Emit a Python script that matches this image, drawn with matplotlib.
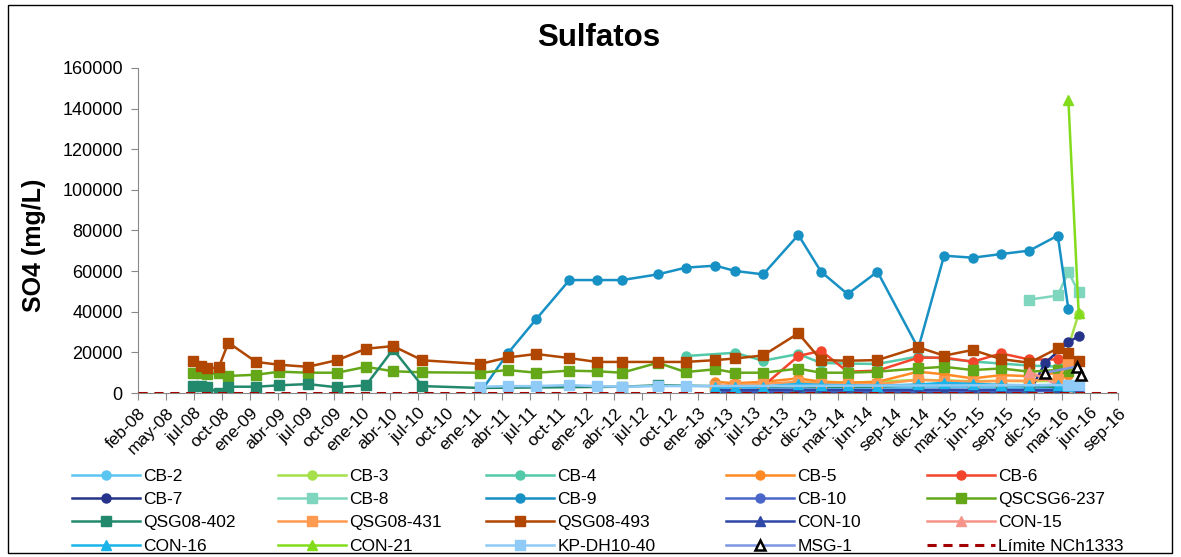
import numpy as np
import matplotlib.pyplot as plt
from matplotlib.patches import Rectangle
from datetime import datetime, timedelta

plt.rcParams['font.family'] = ['Liberation Sans', 'DejaVu Sans']

# sampling campaigns
fechas = ['2008-07-27', '2008-08-22', '2008-09-12', '2008-10-19', '2008-11-19',
          '2009-02-16', '2009-05-02', '2009-08-01', '2009-11-04', '2010-02-04',
          '2010-05-02', '2010-08-04', '2011-02-05', '2011-05-05', '2011-08-04',
          '2011-11-19', '2012-02-14', '2012-05-06', '2012-08-29', '2012-11-26',
          '2013-03-02', '2013-05-03', '2013-08-02', '2013-11-23', '2014-02-04',
          '2014-04-30', '2014-08-04', '2014-12-13', '2015-03-06', '2015-06-06',
          '2015-09-05', '2015-12-05', '2016-01-24', '2016-03-05', '2016-04-08',
          '2016-05-11']

N = None
cb2 = [N]*20 + [2200, 2000, 2500, 2800, 2600, 2500, 2400, 2700, 2900, 2800, 2600, 2500, N, 2400, 2600, 3000]
cb3 = [N]*20 + [N, N, N, 6700, 5600, 5200, 5500, 6500, 6200, 5800, 6000, 5800, N, 6000, N, 39000]
cb4 = [N]*19 + [18200, N, 19800, 15900, 19200, 14800, 14500, 14300, 18000, 17000, 15500, 14500, 13500, N, 13000, 12000, N]
cb5 = [N]*20 + [5500, 4800, 5500, 7200, 5500, 5000, 5500, 10500, 9200, 7200, 8800, 8300, N, 10000, 9000, N]
cb6 = [N]*20 + [N, N, 3400, 18200, 20800, 10500, 11000, 17400, 17400, 15400, 19500, 16500, N, 16500, 17000, N]
cb7 = [N]*20 + [300, 300, 300, 300, 300, 300, 300, 300, 300, 300, 300, 300, 14800, N, 25000, 28000]
cb8 = [N]*31 + [46000, N, 48000, 59700, 49500]
cb9 = [N]*12 + [150, 19500, 36300, 55600, 55600, 55600, 58400, 61700, 62700, 60100, 58400, 77800,
                59700, 48700, 59700, 22000, 67600, 66600, 68400, 70100, N, 77500, 41200, N]
cb10 = [N]*20 + [900, 800, 900, 1000, 900, 900, 800, 900, 1000, 900, 900, 900, N, 900, 1000, 1200]
qscsg6_237 = [10000, 9700, 9400, 9700, 8400, 9000, 10500, 10000, 10000, 12900, 10700, 10200,
              10000, 11300, 10000, 11000, 10700, 10000, 14900, 10300, 11700, 10000, 10000, 12000,
              10000, 10000, 10500, 12100, 12900, 11300, 12100, 10500, N, 11300, 11000, N]
qsg08_402 = [3600, 3400, 2800, 200, 3100, 3100, 3800, 4400, 2800, 3800, 21500, 3400,
             2500, N, N, N, N, 3100, 3800, N, 3400, 3100, 3100, 3400, 3100, 3100, 3100, 3900,
             3900, 3900, 3900, 3400, N, 3000, 3000, N]
qsg08_431 = [N]*20 + [3500, 4000, 4500, 5500, 4500, 4200, 4300, 6500, 6000, 5500, 6000, 6000, N, 7000, 15400, N]
qsg08_493 = [15900, 13400, 12100, 12600, 24800, 15300, 13900, 12900, 16200, 21800, 23100, 16100,
             14300, 17500, 19200, 17200, 15300, 15300, 15300, 15300, 16200, 17000, 18500, 29400,
             16200, 15900, 16200, 22500, 18400, 21200, 16700, 14900, N, 22000, 19500, 15900]
con10 = [N]*20 + [1500, 1400, 1500, 1600, 1500, 1500, 1400, 1500, 1600, 1500, 1500, 1500, N, 1500, 1600, 1700]
con15 = [N]*31 + [10500, N, N, 1500, N]
con16 = [N]*20 + [2800, 3000, 3200, 4500, 4000, 3800, 3600, 4200, 5000, 4500, 4000, 3800, N, 4000, 3500, 4500]
con21 = [N]*34 + [144300, 39500]
kp_dh10_40 = [N]*12 + [3100, 3400, 3400, 3900, 3400, 3100, 3400, 3400] + [N]*14 + [3900, 3900]
# MSG-1 was sampled on its own dates
fechas_msg1 = ['2016-01-24', '2016-05-05', '2016-05-18']
msg1 = [10000, 13000, 8900]
limite = 250

series = [
    ('CB-2', cb2, '#5BC5F2', 'o'),
    ('CB-3', cb3, '#A5E04A', 'o'),
    ('CB-4', cb4, '#52C9A8', 'o'),
    ('CB-5', cb5, '#FF8A25', 'o'),
    ('CB-6', cb6, '#F2452B', 'o'),
    ('CB-7', cb7, '#25348A', 'o'),
    ('CB-8', cb8, '#7FD6BE', 's'),
    ('CB-9', cb9, '#1790C4', 'o'),
    ('CB-10', cb10, '#4A66C8', 'o'),
    ('QSCSG6-237', qscsg6_237, '#64A81A', 's'),
    ('QSG08-402', qsg08_402, '#23896D', 's'),
    ('QSG08-431', qsg08_431, '#FF9A50', 's'),
    ('QSG08-493', qsg08_493, '#B04600', 's'),
    ('CON-10', con10, '#2F47A6', '^'),
    ('CON-15', con15, '#F79489', '^'),
    ('CON-16', con16, '#1AB4EA', '^'),
    ('CON-21', con21, '#82DC1C', '^'),
    ('KP-DH10-40', kp_dh10_40, '#8FCBF6', 's'),
]

tick_labels = ['feb-08', 'may-08', 'jul-08', 'oct-08', 'ene-09', 'abr-09', 'jul-09', 'oct-09',
               'ene-10', 'abr-10', 'jul-10', 'oct-10', 'ene-11', 'abr-11', 'jul-11', 'oct-11',
               'ene-12', 'abr-12', 'jul-12', 'oct-12', 'ene-13', 'abr-13', 'jul-13', 'oct-13',
               'dic-13', 'mar-14', 'jun-14', 'sep-14', 'dic-14', 'mar-15', 'jun-15', 'sep-15',
               'dic-15', 'mar-16', 'jun-16', 'sep-16']

fig = plt.figure(figsize=(11.81, 5.57), dpi=100)
ax = fig.add_axes([0.1169, 0.2944, 0.8298, 0.5836])

dates = [datetime.strptime(d, '%Y-%m-%d') for d in fechas]
handles = {}
for name, vals, color, mk in series:
    xs = [d for d, v in zip(dates, vals) if v is not None]
    ys = [v for v in vals if v is not None]
    h, = ax.plot(xs, ys, color=color, lw=1.8, marker=mk, ms=6.5, mfc=color, mec=color)
    handles[name] = h

msg_dates = [datetime.strptime(d, '%Y-%m-%d') for d in fechas_msg1]
h, = ax.plot(msg_dates, msg1, color='#7D95E3', lw=1.8, marker='^', ms=6.5,
             mfc='white', mec='black', mew=1.8)
handles['MSG-1'] = h

# Excel date axis: first tick 3 feb 2008, major unit ~89.9 days
t0 = datetime(2008, 2, 3)
tick_pos = [t0 + timedelta(days=89.9 * i) for i in range(len(tick_labels))]
hl, = ax.plot([tick_pos[0], tick_pos[-1]], [limite, limite], color='#A50000', lw=2.2,
              ls=(0, (3, 2.2)), zorder=5)
handles['Límite NCh1333'] = hl

ax.set_xlim(tick_pos[0], tick_pos[-1])
ax.set_xticks(tick_pos)
ax.set_xticklabels(tick_labels, rotation=45, ha='right', rotation_mode='anchor', fontsize=12.5)
ax.set_ylim(0, 160000)
ax.set_yticks(np.arange(0, 160001, 20000))
ax.tick_params(axis='y', labelsize=13, length=5, color='#888888', pad=6)
ax.tick_params(axis='x', length=5, color='#888888', pad=4)
for s in ['top', 'right']:
    ax.spines[s].set_visible(False)
for s in ['left', 'bottom']:
    ax.spines[s].set_color('#888888')

fig.text(599 / 1181, 1 - 38 / 557, 'Sulfatos', fontsize=22.5, fontweight='bold',
         ha='center', va='center')
ax.set_ylabel('SO4 (mg/L)', fontsize=18, fontweight='bold')
ax.yaxis.set_label_coords(-0.094, 0.455)

order = ['CB-2', 'CB-3', 'CB-4', 'CB-5', 'CB-6',
         'CB-7', 'CB-8', 'CB-9', 'CB-10', 'QSCSG6-237',
         'QSG08-402', 'QSG08-431', 'QSG08-493', 'CON-10', 'CON-15',
         'CON-16', 'CON-21', 'KP-DH10-40', 'MSG-1', 'Límite NCh1333']
col_x = [72, 278, 486, 726, 927]
for c in range(5):
    names = order[c::5]
    fig.legend([handles[n] for n in names], names, loc='upper left',
               bbox_to_anchor=(col_x[c] / 1181, 1 - 468.5 / 557), frameon=False,
               fontsize=12.5, handlelength=3.9, handletextpad=0.2, labelspacing=0.47,
               borderpad=0, borderaxespad=0)

fig.patches.append(Rectangle((8 / 1181, 4 / 557), 1164 / 1181, 548 / 557, transform=fig.transFigure,
                             fill=False, ec='black', lw=1))
fig.savefig('out.png', dpi=100)
